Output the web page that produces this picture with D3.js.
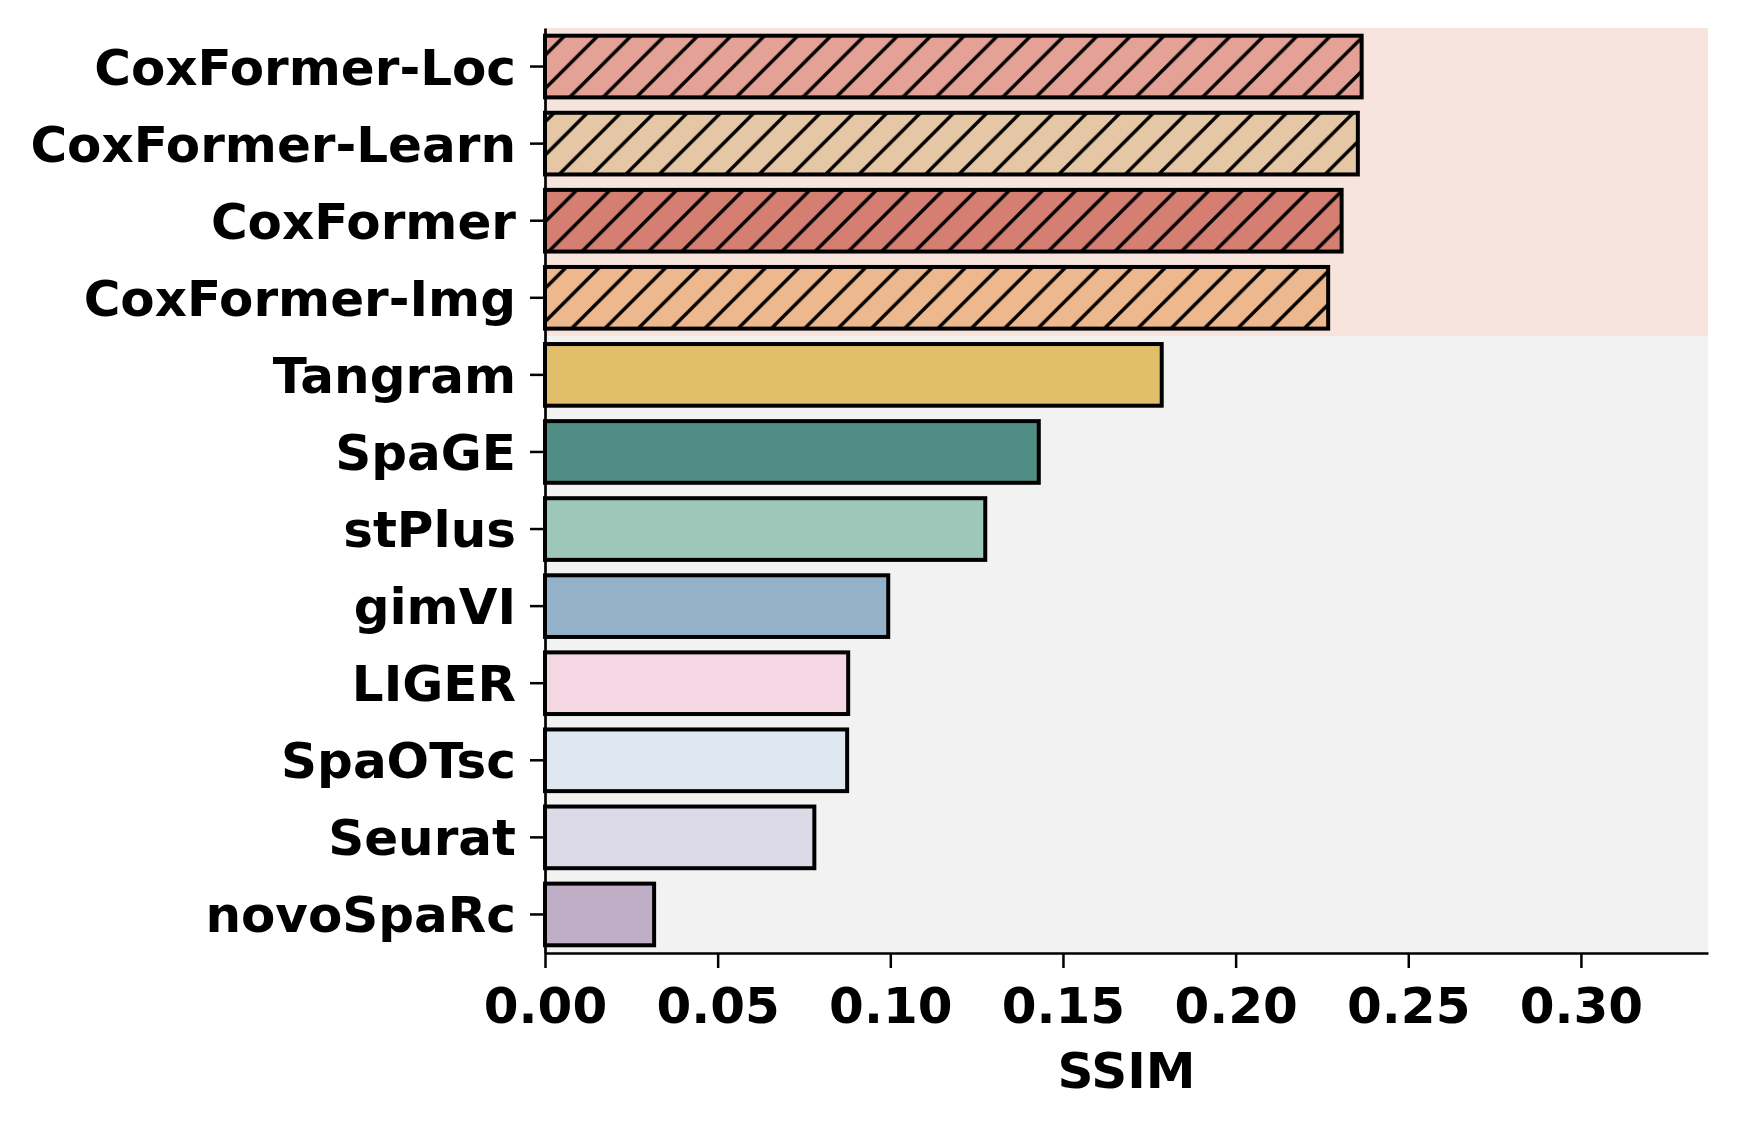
<!DOCTYPE html>
<meta charset="utf-8">
<script src="https://d3js.org/d3.v7.min.js"></script>
<style>
  body { margin: 0; background: #fff; }
  text { font-family: "DejaVu Sans", sans-serif; font-weight: bold; }
</style>
<div id="my_dataviz"></div>
<script>

// methods, top to bottom
var methods = ["CoxFormer-Loc", "CoxFormer-Learn", "CoxFormer", "CoxFormer-Img",
  "Tangram", "SpaGE", "stPlus", "gimVI", "LIGER", "SpaOTsc", "Seurat", "novoSpaRc"];
var ssim = [0.2365, 0.2354, 0.2307, 0.2268, 0.1786, 0.1430, 0.1275, 0.0994,
  0.0878, 0.0875, 0.0780, 0.0316];
var colors = ["#e4a195", "#e5c7a5", "#d47f72", "#edb88d", "#e1bf6a", "#508d85",
  "#9dc7b9", "#93b1c8", "#f4d7e2", "#dfe8f0", "#dcdae7", "#bfaec6"];
var hatched = [true, true, true, true, false, false, false, false, false, false, false, false];
var xTicks = [0.00, 0.05, 0.10, 0.15, 0.20, 0.25, 0.30];

var W = 1737, H = 1125;
var margin = {top: 28, right: 29, bottom: 172, left: 545},
    width = W - margin.left - margin.right,
    height = H - margin.top - margin.bottom;

var svg = d3.select("#my_dataviz")
  .append("svg")
    .attr("width", W)
    .attr("height", H);

// "/" hatch, same phase for all bars
var defs = svg.append("defs");
var pat = defs.append("pattern")
  .attr("id", "hatch")
  .attr("patternUnits", "userSpaceOnUse")
  .attr("x", 27.4)
  .attr("width", 33.3)
  .attr("height", 33.3);
pat.append("path")
  .attr("d", "M-5,38.3 L38.3,-5 M-5,5 L5,-5 M28.3,38.3 L38.3,28.3")
  .attr("stroke", "#000")
  .attr("stroke-width", 3.4)
  .attr("stroke-linecap", "square");

var g = svg.append("g")
  .attr("transform", "translate(" + margin.left + "," + margin.top + ")");

var x = d3.scaleLinear()
  .domain([0, 0.3368])
  .range([0, width]);

var y = d3.scaleBand()
  .domain(methods)
  .range([0, height])
  .paddingInner(0.2)
  .paddingOuter(0.1);

// shaded backgrounds
var split = y(methods[4]) - y.step() * 0.1;
g.append("rect")
  .attr("x", 0).attr("y", 0)
  .attr("width", width).attr("height", split)
  .attr("fill", "#f7e4dd");
g.append("rect")
  .attr("x", 0).attr("y", split)
  .attr("width", width).attr("height", height - split)
  .attr("fill", "#f1f2f1");

var data = methods.map(function(m, i) {
  return {name: m, value: ssim[i], color: colors[i], hatch: hatched[i]};
});

var bars = g.selectAll(".bar")
  .data(data)
  .enter()
  .append("g")
  .attr("class", "bar");

bars.append("rect")
  .attr("x", 0)
  .attr("y", function(d) { return y(d.name); })
  .attr("width", function(d) { return x(d.value); })
  .attr("height", y.bandwidth())
  .attr("fill", function(d) { return d.color; });

bars.filter(function(d) { return d.hatch; })
  .append("rect")
  .attr("x", 0)
  .attr("y", function(d) { return y(d.name); })
  .attr("width", function(d) { return x(d.value); })
  .attr("height", y.bandwidth())
  .attr("fill", "url(#hatch)");

bars.append("rect")
  .attr("x", 0)
  .attr("y", function(d) { return y(d.name); })
  .attr("width", function(d) { return x(d.value); })
  .attr("height", y.bandwidth())
  .attr("fill", "none")
  .attr("stroke", "#000")
  .attr("stroke-width", 4);

// X axis
var xAxis = g.append("g")
  .attr("transform", "translate(0," + height + ")")
  .call(d3.axisBottom(x).tickValues(xTicks).tickFormat(d3.format(".2f"))
    .tickSizeInner(15).tickSizeOuter(0).tickPadding(19));
xAxis.select(".domain").attr("stroke-width", 2.7);
xAxis.selectAll(".tick line").attr("stroke-width", 2.5);
xAxis.selectAll("text").attr("font-size", 50).attr("fill", "#000")
  .attr("font-family", "DejaVu Sans").attr("font-weight", "bold");

// Y axis
var yAxis = g.append("g")
  .call(d3.axisLeft(y).tickSizeInner(15).tickSizeOuter(0).tickPadding(14));
yAxis.select(".domain").attr("stroke-width", 2.7);
yAxis.selectAll(".tick line").attr("stroke-width", 2.5);
yAxis.selectAll("text").attr("font-size", 50).attr("fill", "#000")
  .attr("font-family", "DejaVu Sans").attr("font-weight", "bold")
  .attr("dy", "0.36em");

// axis title
g.append("text")
  .attr("x", width / 2)
  .attr("y", height + 135)
  .attr("text-anchor", "middle")
  .attr("font-size", 50)
  .text("SSIM");

</script>
